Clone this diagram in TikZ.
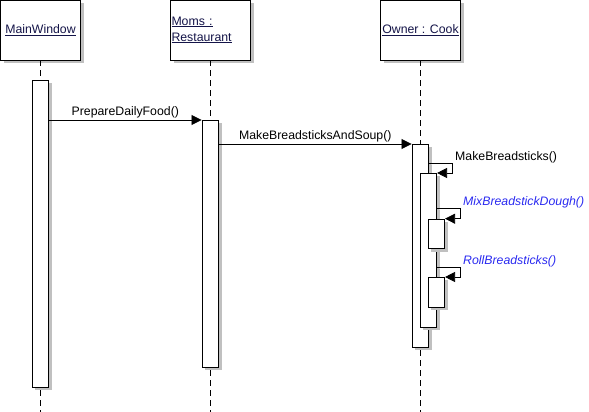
\documentclass[tikz,border=0pt]{standalone}
\usepackage{fontspec}
\setmainfont{Liberation Sans}
\usetikzlibrary{arrows.meta, shadows}
\definecolor{shade}{HTML}{C0C0C0}
\definecolor{headtxt}{HTML}{141448}
\definecolor{callc}{HTML}{2A2AF0}
\tikzset{
  head/.style={draw, fill=white, line width=0.8pt, minimum width=80pt, minimum height=60pt,
               inner sep=1pt, font=\fontsize{12.3}{16}\selectfont, text=headtxt,
               drop shadow={shadow xshift=3pt, shadow yshift=-3pt, fill=shade, opacity=1}},
  act/.style={draw, fill=white, line width=0.8pt, minimum width=16.7pt, inner sep=0pt, anchor=north,
              drop shadow={shadow xshift=3pt, shadow yshift=-3pt, fill=shade, opacity=1}},
  life/.style={line width=0.8pt, dash pattern=on 6pt off 4pt},
  msg/.style={-{Triangle[length=10pt,width=10pt]}, line width=0.8pt},
  lbl/.style={font=\fontsize{12.3}{14}\selectfont, inner sep=1pt},
  call/.style={lbl, text=callc, font=\fontsize{12.3}{14}\selectfont\itshape},
}

\begin{document}
\begin{tikzpicture}[x=1pt, y=-1pt]
\useasboundingbox (0,0) rectangle (589,412);

% ---------------- heads ----------------
\node[head] (mw) at (40.5,30) {\underline{MainWindow}};
\node[head, text width=78pt, align=left] (rs) at (210.5,30) {\underline{Moms :}\\\underline{Restaurant}};
\node[head] (ck) at (420.5,30) {\underline{Owner : Cook}};
\foreach \h in {mw,rs,ck} {
  \draw[life] (\h.south) -- (\h.south |- 0,412);
}

% ---------------- activations ----------------
\node[act, minimum height=307pt] (mwact) at (40.3,80) {};
\node[act, minimum height=247pt] (rsact) at (210.3,120) {};
\node[act, minimum height=203pt] (ckact) at (420.3,144) {};
\node[act, minimum height=154pt] (ck2) at (428.3,173) {};
\node[act, minimum height=29.5pt] (mix) at (436.3,218.7) {};
\node[act, minimum height=30pt] (roll) at (436.3,277) {};

% ---------------- messages ----------------
\draw[msg] (mwact.east |- rsact.north) -- node[lbl, above=1pt] (pdf) {PrepareDailyFood()} (rsact.north west);
\draw[msg] (rsact.east |- ckact.north) -- node[lbl, above=1pt] (mbas) {MakeBreadsticksAndSoup()} (ckact.north west);

% ---------------- self calls ----------------
\coordinate (mbs) at (ckact.east |- 0,163);
\coordinate (mbd) at (ck2.east |- 0,208);
\coordinate (rb) at (ck2.east |- 0,267);
\draw[msg, fill=white] (mbs) -- ++(23.3,0) |- (ck2.north east);
\draw[msg, fill=white] (mbd) -- ++(23.3,0) |- (mix.north east);
\draw[msg, fill=white] (rb) -- ++(23.3,0) |- (roll.north east);
\node[lbl, anchor=west] (mbslbl) at (454,157) {MakeBreadsticks()};
\node[call, anchor=west] (mbdlbl) at (462,202) {MixBreadstickDough()};
\node[call, anchor=west] (rblbl) at (462,261) {RollBreadsticks()};

\end{tikzpicture}
\end{document}
